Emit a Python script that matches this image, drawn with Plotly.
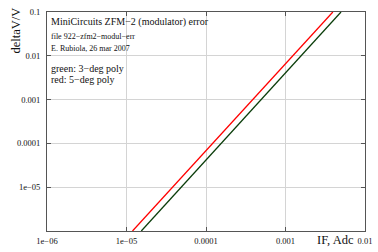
import plotly.graph_objects as go

# Data (log-log)
red_if = [1.19e-5, 1e-4, 1e-3, 3.94e-3]
red_dv = [1e-6, 6.8e-5, 6.6e-3, 0.1]
green_if = [1.535e-5, 1e-4, 1e-3, 4.99e-3]
green_dv = [1e-6, 4.17e-5, 4.07e-3, 0.1]

x_tickvals = [1e-6, 1e-5, 1e-4, 1e-3, 1e-2]
x_ticktext = ["1e\u221206", "1e\u221205", "0.0001", "0.001", "0.01"]
y_tickvals = [1e-5, 1e-4, 1e-3, 1e-2, 1e-1]
y_ticktext = ["1e\u221205", "0.0001", "0.001", "0.01", "0.1"]

W, H = 378, 252
ML, MR, MT, MB = 47, 6, 12, 20
PW, PH = W - ML - MR, H - MT - MB
FONT = "Liberation Serif, Times New Roman, serif"


def px(x):
    return (x - ML) / PW


def py(y):
    return (H - MB - y) / PH


fig = go.Figure()
fig.add_trace(go.Scatter(x=red_if, y=red_dv, mode="lines",
                         line=dict(color="#ff0000", width=1.3), showlegend=False))
fig.add_trace(go.Scatter(x=green_if, y=green_dv, mode="lines",
                         line=dict(color="#0a3d0a", width=1.3), showlegend=False))

axis_common = dict(
    type="log", showline=True, linecolor="#555555", linewidth=1, mirror="ticks",
    ticks="inside", ticklen=4, tickcolor="#555555", tickwidth=1,
    showgrid=True, gridcolor="#d4d4d4", gridwidth=1, zeroline=False,
    ticklabeloverflow="allow",
    tickfont=dict(family=FONT, size=8.5, color="#111111"),
)
fig.update_xaxes(range=[-6, -2], tickvals=x_tickvals, ticktext=x_ticktext,
                 ticklabelstandoff=2, **axis_common)
fig.update_yaxes(range=[-6, -1], tickvals=y_tickvals, ticktext=y_ticktext,
                 ticklabelstandoff=4, **axis_common)

notes = [
    ("MiniCircuits ZFM\u22122 (modulator) error", 50, 22, 10),
    ("file 922\u2212zfm2\u2212modul\u2212err", 50, 37, 8),
    ("E. Rubiola, 26 mar 2007", 50, 49, 8),
    ("green: 3\u2212deg poly", 50, 69, 10),
    ("red: 5\u2212deg poly", 50, 80, 10),
]
for text, x, y, s in notes:
    fig.add_annotation(text=text, x=px(x), y=py(y), xref="paper", yref="paper",
                       xanchor="left", yanchor="middle", showarrow=False,
                       borderpad=0, font=dict(family=FONT, size=s, color="#111111"))

fig.add_annotation(text="deltaV/V", x=px(15), y=py(31), xref="paper", yref="paper",
                   xanchor="center", yanchor="middle", textangle=-90, showarrow=False,
                   font=dict(family=FONT, size=12.5, color="#111111"))
fig.add_annotation(text="IF, Adc", x=px(342), y=py(241), xref="paper", yref="paper",
                   xanchor="center", yanchor="middle", showarrow=False,
                   font=dict(family=FONT, size=12.5, color="#111111"))

fig.update_layout(width=W, height=H, margin=dict(l=ML, r=MR, t=MT, b=MB),
                  paper_bgcolor="white", plot_bgcolor="white")

fig.write_html("out.html", config={"displayModeBar": False},
               post_script="document.body.style.margin='0';document.body.style.overflow='hidden';")
